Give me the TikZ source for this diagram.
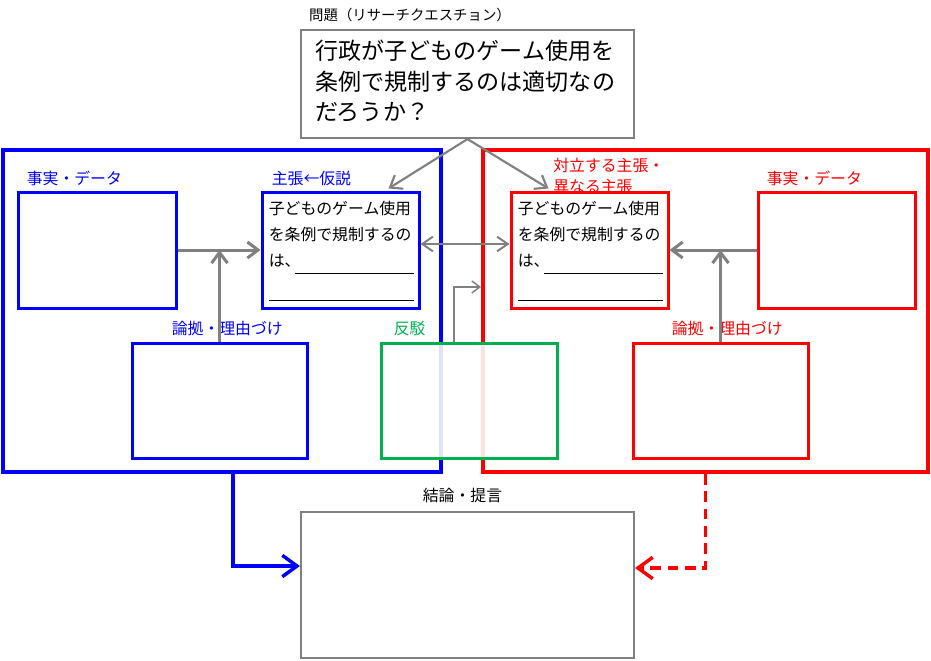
\documentclass[tikz,border=0pt]{standalone}
\usepackage{fontspec}
\newfontfamily\jpfont{Noto Sans CJK JP}
\usepackage{xcolor}
\usetikzlibrary{calc,fit,arrows.meta}
\definecolor{argblue}{RGB}{0,0,255}
\definecolor{argred}{RGB}{255,0,0}
\definecolor{arggreen}{RGB}{0,176,80}
\definecolor{arggray}{RGB}{128,128,128}

\begin{document}
\begin{tikzpicture}[x=0.75pt,y=-0.75pt,
        box/.style={draw,line width=2.25pt,inner sep=0pt},
        frame/.style={draw,line width=2.8pt,inner sep=0pt},
        lbl/.style={inner sep=0pt,anchor=base west,font=\jpfont\fontsize{11.9}{14}\selectfont},
        claimtext/.style={inner sep=0pt,anchor=north west,align=left,font=\jpfont\fontsize{11.9}{19.5}\selectfont},
        link/.style={arggray,line width=2.25pt,-{Straight Barb[length=8pt,width=12pt]}},
        qlink/.style={arggray,line width=1.6pt,-{Straight Barb[length=8pt,width=12pt]}},
        bigtip/.style={line width=2.6pt,-{Straight Barb[length=11pt,width=16pt]}}]
        \useasboundingbox (0,0) rectangle (931,660);

        % Frames
        \node[frame,argblue,fit={(3,150) (441,472)}] (lframe) {};
        \node[frame,argred,fit={(483,150) (928,472)}] (rframe) {};

        % Question
        \node[box,arggray,line width=1.6pt,fit={(301,30) (634,138)}] (quest) {};
        \node[claimtext,font=\jpfont\fontsize{17.3}{22.9}\selectfont] (questtext) at ($(quest.north west)+(15,11)$)
            {行政が子どものゲーム使用を\\条例で規制するのは適切なの\\だろうか？};
        \node[lbl,font=\jpfont\fontsize{10.8}{13}\selectfont] (questlbl) at ($(quest.north west)+(9,-8)$) {問題（リサーチクエスチョン）};

        % Own side
        \node[box,argblue,fit={(18,192) (176,308)}] (lfact) {};
        \node[box,argblue,fit={(262,192) (419,308)}] (lclaim) {};
        \node[box,argblue,fit={(132,343) (307,458)}] (lwarr) {};
        \node[lbl,argblue] (lfactlbl) at ($(lfact.north west)+(10,-6)$) {事実・データ};
        \node[lbl,argblue] (lclaimlbl) at ($(lclaim.north west)+(11,-6)$) {主張←仮説};
        \node[lbl,argblue] (lwarrlbl) at ($(lwarr.north west)+(41,-7)$) {論拠・理由づけ};

        % Other side
        \node[lbl,anchor=south west,align=left,font=\jpfont\fontsize{11.9}{15.75}\selectfont,argred] (rclaimlbl)
            at (553,194) {対立する主張・\\異なる主張};
        \node[box,argred,fill=white,fit={(511,192) (668,308)}] (rclaim) {};
        \node[box,argred,fit={(758,192) (915,308)}] (rfact) {};
        \node[box,argred,fit={(633,343) (808,458)}] (rwarr) {};
        \node[lbl,argred] (rfactlbl) at ($(rfact.north west)+(10,-6)$) {事実・データ};
        \node[lbl,argred] (rwarrlbl) at ($(rwarr.north west)+(40,-7)$) {論拠・理由づけ};

        % Claim texts
        \foreach \c in {lclaim,rclaim} {
            \node[claimtext] at ($(\c.north west)+(8,10)$) {子どものゲーム使用\\を条例で規制するの\\は、};
            \draw[line width=0.8pt] ($(\c.south west)+(34,-36)$) -- ($(\c.south east)+(-7,-36)$);
            \draw[line width=0.8pt] ($(\c.south west)+(8,-9)$) -- ($(\c.south east)+(-7,-9)$);
        }

        % Rebuttal
        \node[box,arggreen,fill=white,fill opacity=0.88,fit={(381,343) (557,458)}] (rebut) {};
        \node[lbl,arggreen] (rebutlbl) at ($(rebut.north west)+(14,-7)$) {反駁};

        % Conclusion
        \node[box,arggray,line width=1.6pt,fit={(301,512) (634,658)}] (concl) {};
        \node[lbl,anchor=base] (concllbl) at ($(concl.north)+(-5,-9)$) {結論・提言};

        % Connectors
        \draw[qlink] (quest.south) -- ($(lclaim.north)+(48,-2)$);
        \draw[qlink] (quest.south) -- ($(rclaim.north)+(-41,-2)$);
        \draw[link] (lfact.east) -- (lclaim.west);
        \draw[link] (lwarr.north) -- (lwarr.north |- lfact.east);
        \draw[link] (rfact.west) -- (rclaim.east);
        \draw[link] (rwarr.north) -- (rwarr.north |- rfact.west);
        \draw[arggray,line width=1.5pt,{Straight Barb[length=8pt,width=11pt]}-{Straight Barb[length=8pt,width=11pt]}]
            ($(lclaim.east)+(0,-6)$) -- ($(rclaim.west)+(0,-6)$);
        \coordinate (rebtip) at (481,287);
        \draw[arggray,line width=1.1pt,-{Straight Barb[length=6pt,width=9pt]}] ($(rebut.north)+(-15,0)$) |- (rebtip);
        \draw[bigtip,argblue] ($(lframe.south)+(11,0)$) |- ($(concl.west)+(0,-19)$);
        \draw[bigtip,argred,dash pattern=on 8pt off 5pt] (rframe.south) |- ($(concl.east)+(0,-17)$);
    \end{tikzpicture}
\end{document}
